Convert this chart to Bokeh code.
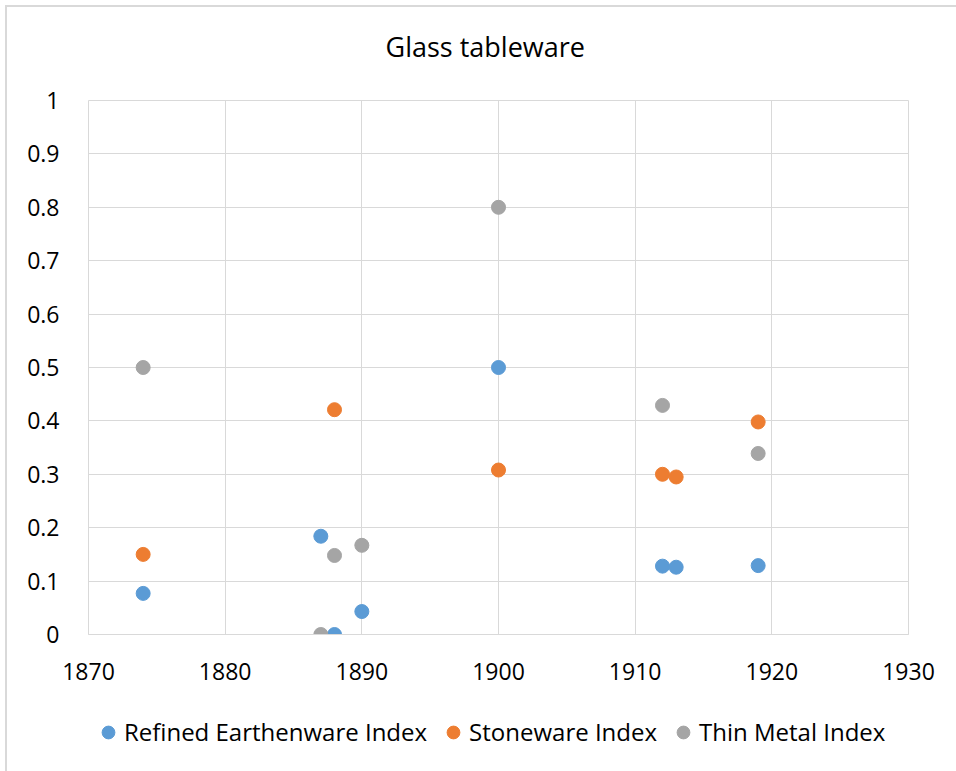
from bokeh.plotting import figure
from bokeh.layouts import column
from bokeh.models import Legend, LegendItem, FixedTicker, ColumnDataSource, Label
from bokeh.embed import file_html
from bokeh.resources import INLINE

FONT = "Open Sans"

chart_title = "Glass tableware"

earth_years = [1874, 1887, 1888, 1890, 1900, 1912, 1913, 1919]
earth_vals = [0.077, 0.184, 0.0, 0.043, 0.5, 0.128, 0.126, 0.129]

stone_years = [1874, 1888, 1900, 1912, 1913, 1919]
stone_vals = [0.15, 0.421, 0.308, 0.30, 0.295, 0.398]

metal_years = [1874, 1887, 1888, 1890, 1900, 1912, 1919]
metal_vals = [0.5, 0.0, 0.148, 0.167, 0.8, 0.429, 0.339]

series_names = ["Refined Earthenware Index", "Stoneware Index", "Thin Metal Index"]
series_colors = ["#5B9BD5", "#ED7D31", "#A5A5A5"]

x_ticks = [1870, 1880, 1890, 1900, 1910, 1920, 1930]
y_ticks = [0, 0.1, 0.2, 0.3, 0.4, 0.5, 0.6, 0.7, 0.8, 0.9, 1]


def strip(h):
    f = figure(width=949, height=h, x_range=(0, 1), y_range=(0, 1),
               output_backend="svg", toolbar_location=None, title=None,
               x_axis_location=None, y_axis_location=None,
               min_border_left=0, min_border_right=0, min_border_top=0, min_border_bottom=0)
    f.outline_line_color = None
    f.xgrid.visible = False
    f.ygrid.visible = False
    return f


# ---- title strip ----
top = strip(73)
top.add_layout(Label(x=297, y=34, x_units="screen", y_units="screen", text=chart_title,
                     text_align="left", text_baseline="middle", text_font=FONT,
                     text_font_size="27px", text_color="#000000"))

# ---- main chart ----
p = figure(width=None, height=None, frame_width=820, frame_height=534,
           x_range=(1870, 1930), y_range=(0, 1), title=None,
           output_backend="svg", toolbar_location=None,
           min_border_left=81, min_border_right=48, min_border_top=20, min_border_bottom=60)

p.outline_line_color = "#d9d9d9"
for ax in (p.xaxis[0], p.yaxis[0]):
    ax.major_label_text_font = FONT
    ax.major_label_text_font_size = "23px"
    ax.major_label_text_color = "#000000"
    ax.major_tick_line_color = None
    ax.minor_tick_line_color = None
p.xaxis.ticker = FixedTicker(ticks=x_ticks)
p.yaxis.ticker = FixedTicker(ticks=y_ticks)
p.yaxis.major_label_overrides = {0: "0", 1: "1"}
p.xaxis.axis_line_color = "#d9d9d9"
p.yaxis.axis_line_color = None
p.xaxis.major_label_standoff = 22
p.yaxis.major_label_standoff = 23
p.xgrid.grid_line_color = "#d9d9d9"
p.ygrid.grid_line_color = "#d9d9d9"

data = [(earth_years, earth_vals), (stone_years, stone_vals), (metal_years, metal_vals)]
for (xs, ys), name, col in zip(data, series_names, series_colors):
    src = ColumnDataSource(dict(x=xs, y=ys))
    p.scatter("x", "y", source=src, size=14, fill_color=col, line_color=col)

# ---- legend strip (same series; points lie outside this strip's ranges) ----
lg = strip(77)
items = []
for (xs, ys), name, col in zip(data, series_names, series_colors):
    src = ColumnDataSource(dict(x=xs, y=ys))
    r = lg.scatter("x", "y", source=src, size=14, fill_color=col, line_color=col)
    items.append(LegendItem(label=name, renderers=[r]))

legend = Legend(items=items, orientation="horizontal", location=(4, 23),
                label_text_font=FONT, label_text_font_size="24px",
                label_text_color="#000000", border_line_color=None,
                background_fill_alpha=0,
                glyph_width=32, glyph_height=32, spacing=10, label_standoff=0,
                margin=0, padding=0)
lg.add_layout(legend)

layout = column(top, p, lg, spacing=0, margin=(5, 0, 0, 5),
                styles={"border-left": "2px solid #d9d9d9", "border-top": "2px solid #d9d9d9"})

open("out.html", "w").write(file_html(layout, INLINE))
